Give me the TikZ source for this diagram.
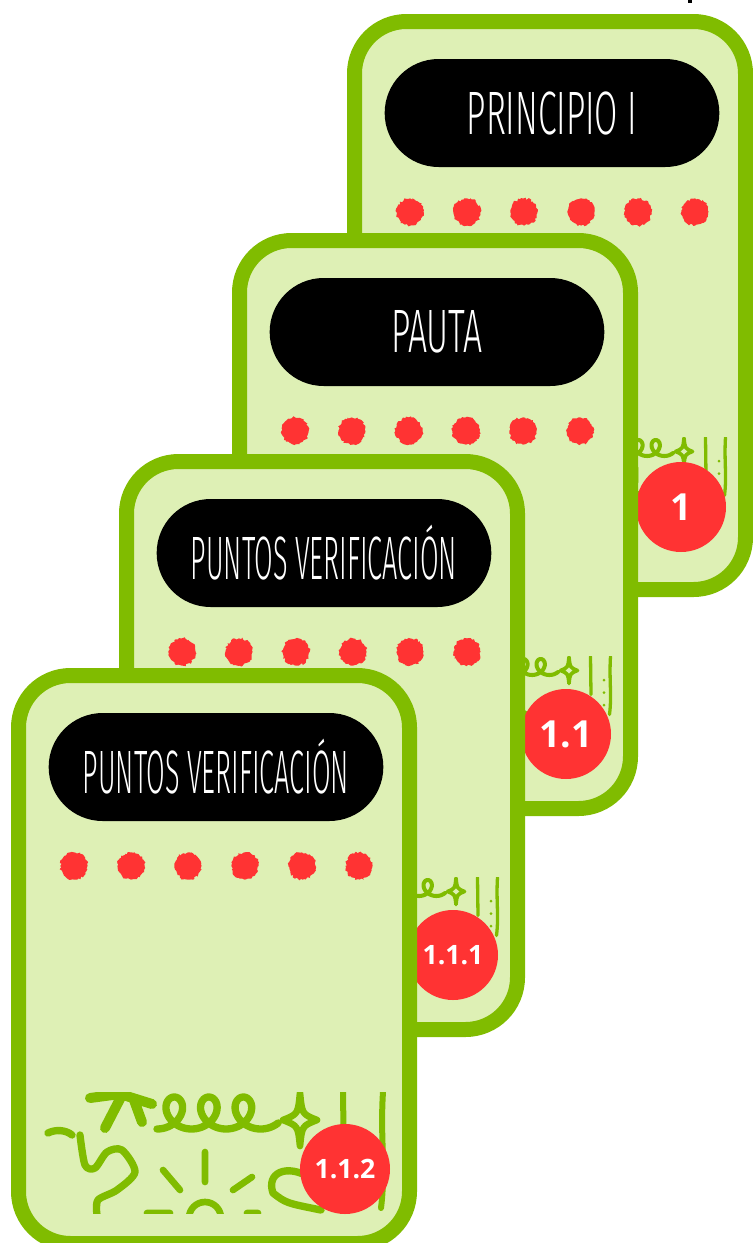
\documentclass[tikz,border=0pt]{standalone}
\usepackage{fontspec}
\usetikzlibrary{shapes.misc,decorations.pathmorphing}
\newfontfamily\titlefont[FakeStretch=0.55]{Fira Sans Light}
\newfontfamily\numfont{Open Sans}
\definecolor{cardgreen}{RGB}{128,188,0}
\definecolor{cardfill}{RGB}{222,240,181}
\definecolor{dotred}{RGB}{255,51,51}

% green scribbles at the foot of a card (card pixels, #1 = stroke factor)
\newcommand\doodles[1]{%
\begin{scope}[cardgreen,line cap=round,line join=round]
\clip (30,424) rectangle (392,545);
\draw[line width=#1*7.5pt] (79,430)--(109,426)--(141,436) (94,460)--(110,429) (123,432)--(131,454);
\draw[line width=#1*5.5pt] plot[domain=0:19.75,samples=150,variable=\t] ({146+5.5*\t+16*sin(\t r)},{445+16*cos(\t r)});
\draw[line width=#1*5pt] (289,425) .. controls (291,446) .. (306,452) .. controls (291,458) .. (289,478) .. controls (287,458) .. (272,452) .. controls (287,446) .. cycle;
\draw[line width=#1*4.5pt] (332,424)--(333,500) (372,424) .. controls (369,470) and (375,500) .. (370,540);
\fill (359,471) circle (3) (359,496) circle (3) (359,521) circle (3);
\draw[line width=#1*5.5pt] (37,465) .. controls (45,461) and (55,462) .. (61,467);
\draw[line width=#1*5.5pt] plot[smooth] coordinates {(69,467) (74,497) (84,500) (96,484) (111,482) (124,504) (106,522) (87,532) (86,547)};
\draw[line width=#1*5pt] (194,484)--(194,514) (152,502)--(169,522) (241,509)--(222,522) (194,550) circle (16) (136,545)--(159,545) (236,545)--(247,545);
\draw[line width=#1*5.5pt] (300,510) .. controls (275,495) and (255,505) .. (262,525) .. controls (275,535) .. (310,542);
\end{scope}}

\begin{document}
\begin{tikzpicture}[x=.75pt,y=-.75pt,
  cardframe/.style={draw=cardgreen,fill=cardfill,line width=11.25pt,rounded corners=39pt},
  titlepill/.style={rounded rectangle,fill=black,text=white,minimum width=251pt,minimum height=81pt,inner sep=0pt,font=\titlefont\fontsize{46}{46}\selectfont},
  badge/.style={circle,fill=dotred,text=white,minimum size=67.5pt,inner sep=0pt},
  blob/.style={fill=dotred,decorate,decoration={random steps,segment length=1.3pt,amplitude=.9pt}}]
\pgfmathsetseed{3}
\useasboundingbox (0,0) rectangle (753,1243);
\fill (688,0) rectangle (692,3);
% back card first, each next one lies on top
\foreach \i/\cx/\cy/\txt/\sx/\num/\nsize/\by in {4/347/14/PRINCIPIO I/1/1/28/493,3/232/233/PAUTA/1/1.1/28/501,2/119/454/PUNTOS VERIFICACIÓN/.8/1.1.1/20/501,1/11/668/PUNTOS VERIFICACIÓN/.8/1.1.2/20/501}{\begin{scope}[shift={(\cx,\cy)}]
\draw[cardframe] (7.5,7.5) rectangle (398.5,575.5);
\ifnum\i=1\doodles{1}\else\begin{scope}[shift={(385,423)},scale=.5,shift={(-385,-423)}]\doodles{.55}\end{scope}\fi
\foreach \k in {0,...,5}\fill[blob] ({63+57*\k},198) circle (13.5);
\node[titlepill] (title\i) at (205,99) {\scalebox{\sx}[1]{\txt}};
\node[badge,font=\numfont\bfseries\fontsize{\nsize}{\nsize}\selectfont] (badge\i) at (334,\by) {\num};
\end{scope}}
\end{tikzpicture}
\end{document}
